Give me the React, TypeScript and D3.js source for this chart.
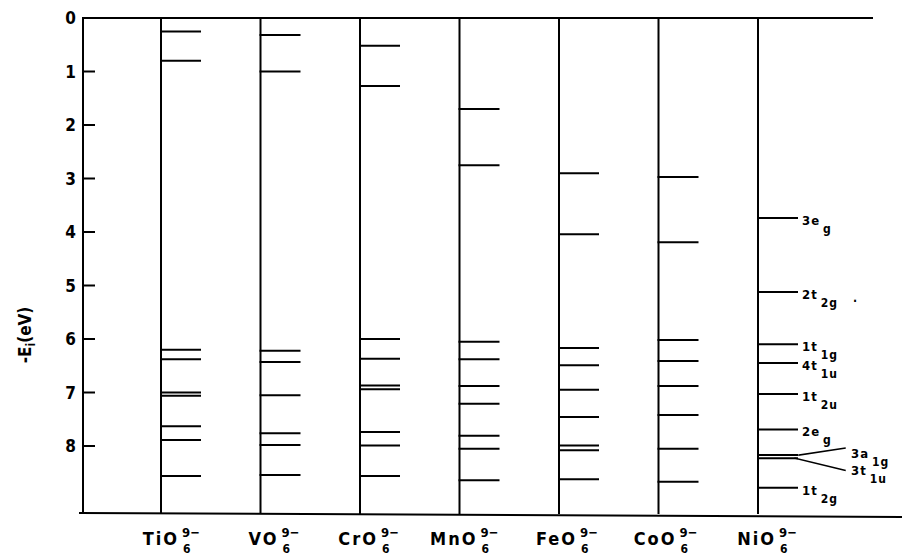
import React from 'react';
import * as d3 from 'd3';

// orbital energies -E_i (eV), one list per complex
const complexes = ['TiO', 'VO', 'CrO', 'MnO', 'FeO', 'CoO', 'NiO'];
const tiLevels = [0.25, 0.8, 6.2, 6.38, 7.0, 7.06, 7.63, 7.89, 8.56];
const vLevels = [0.32, 1.0, 6.22, 6.43, 7.05, 7.76, 7.98, 8.54];
const crLevels = [0.52, 1.27, 6.0, 6.37, 6.87, 6.94, 7.74, 7.99, 8.56];
const mnLevels = [1.7, 2.75, 6.05, 6.38, 6.88, 7.21, 7.81, 8.05, 8.64];
const feLevels = [2.9, 4.04, 6.17, 6.49, 6.95, 7.46, 7.99, 8.08, 8.62];
const coLevels = [2.97, 4.19, 6.02, 6.41, 6.88, 7.42, 8.05, 8.67];
const niLevels = [3.74, 5.12, 6.1, 6.45, 7.03, 7.69, 8.17, 8.23, 8.78];
const levelSets = [tiLevels, vLevels, crLevels, mnLevels, feLevels, coLevels, niLevels];

// orbital names for NiO (number + letter, then subscript)
const niLabelMain = ['3e', '2t', '1t', '4t', '1t', '2e', '3a', '3t', '1t'];
const niLabelSub = ['g', '2g', '1g', '1u', '2u', 'g', '1g', '1u', '2g'];

const yTicks = [0, 1, 2, 3, 4, 5, 6, 7, 8];
const chargeLabel = '9\u2212';
const oxygenCount = '6';

const W = 902;
const H = 556;
const FONT = "'DejaVu Sans Condensed', 'DejaVu Sans', sans-serif";

export default function App() {
  const y = d3.scaleLinear().domain([0, 8]).range([18, 446]);
  const x = d3.scalePoint<string>().domain(complexes).range([161, 758]);
  const axisX = 83;
  const bottomY = 513;
  const levelLen = 39;

  // callout labels for the two nearly degenerate NiO levels
  const callout: Record<number, { dy: number; x0: number; tdy: number }> = {
    6: { dy: -7, x0: 799, tdy: 10 },
    7: { dy: 12, x0: 795, tdy: 5 },
  };

  return (
    <div style={{ position: 'fixed', left: 0, top: 0 }}>
      <svg width={W} height={H} style={{ display: 'block', background: '#fff' }}>
        <g stroke="#000" strokeWidth={2} fill="none" strokeLinecap="square">
          {/* frame */}
          <line x1={axisX} y1={y(0)} x2={872} y2={y(0)} />
          <line x1={axisX} y1={y(0)} x2={axisX} y2={bottomY} />
          <line x1={80} y1={bottomY} x2={W} y2={bottomY + 4} />
          {yTicks.map((t) => (
            <line key={t} x1={axisX} x2={axisX + 11} y1={y(t)} y2={y(t)} />
          ))}
          {/* columns and levels */}
          {complexes.map((c, i) => (
            <g key={c}>
              <line x1={x(c)} x2={x(c)} y1={y(0)} y2={bottomY} />
              {levelSets[i].map((e, j) => (
                <line key={j} x1={x(c)} x2={(x(c) as number) + levelLen} y1={y(e)} y2={y(e)} />
              ))}
            </g>
          ))}
          {/* leader lines */}
          {Object.keys(callout).map((k) => {
            const j = +k;
            const ly = y(niLevels[j]);
            return <line key={k} x1={callout[j].x0} y1={ly} x2={845} y2={ly + callout[j].dy} strokeWidth={1.5} />;
          })}
        </g>

        <g fontFamily={FONT} fill="#000" fontWeight="bold">
          {yTicks.map((t) => (
            <text key={t} x={76} y={y(t)} dy="0.36em" textAnchor="end" fontSize={17}>
              {t}
            </text>
          ))}
          <text transform="translate(31,335) rotate(-90)" textAnchor="middle" fontSize={17}>
            -E<tspan dy={4} fontSize={12}>i</tspan>
            <tspan dy={-4}>(eV)</tspan>
          </text>

          {complexes.map((c) => {
            const cx = x(c) as number;
            return (
              <g key={c}>
                <text x={cx + 18} y={545} textAnchor="end" fontSize={18} letterSpacing={2}>
                  {c}
                </text>
                <text x={cx + 21} y={537} fontSize={13}>
                  {chargeLabel}
                </text>
                <text x={cx + 22} y={553} fontSize={12}>
                  {oxygenCount}
                </text>
              </g>
            );
          })}

          {niLevels.map((e, j) => {
            const ly = y(e);
            const c = callout[j];
            const lx = c ? 851 : 802;
            const base = c ? ly + c.dy + c.tdy : ly + 7;
            return (
              <text key={j} x={lx} y={base} fontSize={13} letterSpacing={1}>
                {niLabelMain[j]}
                <tspan dx={3} dy={8} fontSize={12}>
                  {niLabelSub[j]}
                </tspan>
              </text>
            );
          })}
          <text x={853} y={302} fontSize={12}>.</text>
        </g>
      </svg>
    </div>
  );
}
